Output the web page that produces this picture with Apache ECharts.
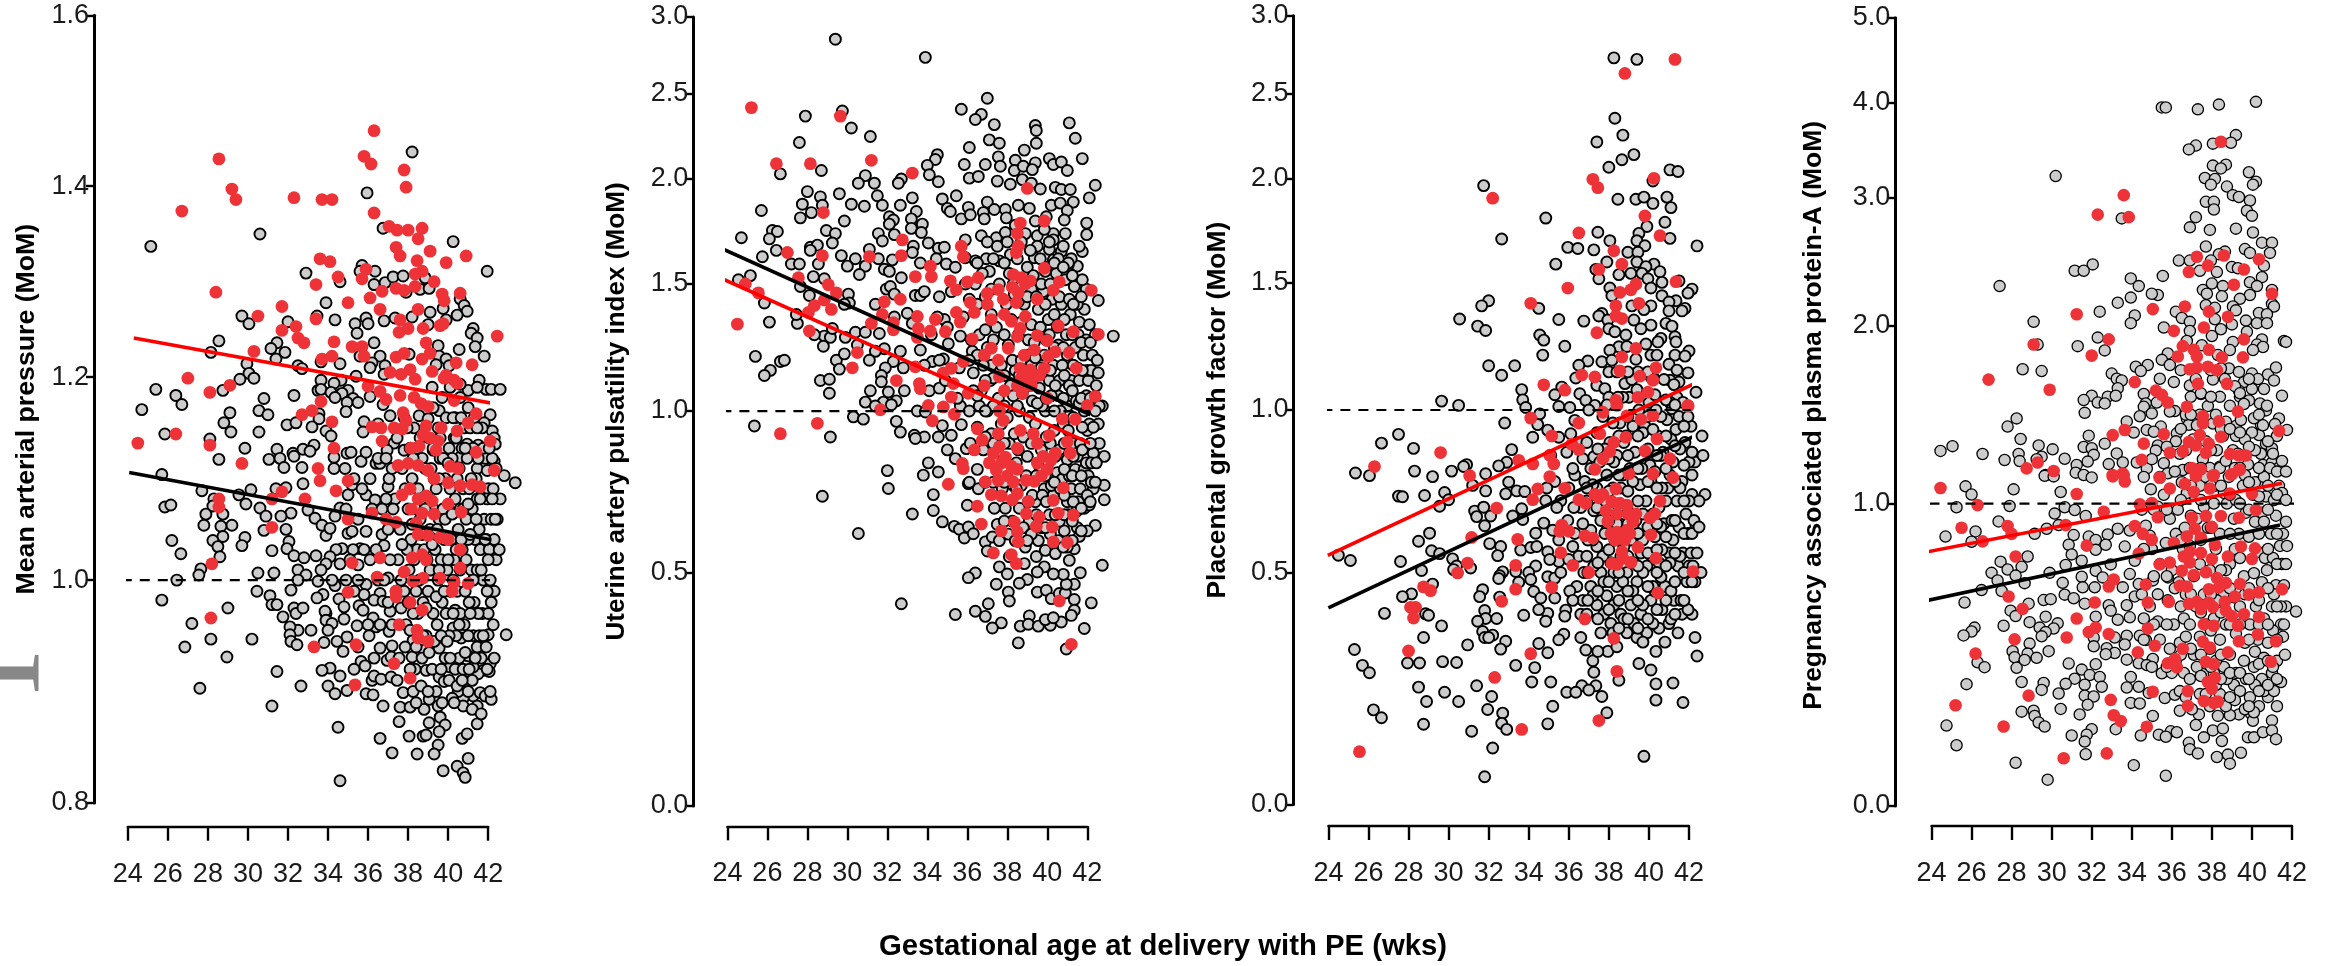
<!DOCTYPE html>
<html><head><meta charset="utf-8">
<script src="https://cdn.jsdelivr.net/npm/echarts@6/dist/echarts.min.js"></script>
<style>html,body{margin:0;background:#fff}#c{width:2331px;height:966px}</style></head>
<body><div id="c"></div>
<script>
const weekTicks=[24,26,28,30,32,34,36,38,40,42];
const xTitle="Gestational age at delivery with PE (wks)";
const titles=["Mean arterial pressure (MoM)","Uterine artery pulsatility index (MoM)","Placental growth factor (MoM)","Pregnancy associated plasma protein-A (MoM)"];
const p1Ticks=[0.8,1.0,1.2,1.4,1.6];
const p2Ticks=[0.0,0.5,1.0,1.5,2.0,2.5,3.0];
const p3Ticks=[0.0,0.5,1.0,1.5,2.0,2.5,3.0];
const p4Ticks=[0.0,1.0,2.0,3.0,4.0,5.0];
const p1Stops=[0,.283,.5406,.783,1];
const p2Stops=[0,.2953,.5006,.6616,.7947,.9024,1];
const p3Stops=[0,.2942,.5002,.6612,.7939,.9011,1];
const p4Stops=[0,.3836,.6093,.7713,.8922,1];
const p1BlackFit=[[24.07,1.106],[42.9,1.037]];
const p1RedFit=[[24.3,1.241],[43.1,1.171]];
const p1Ref=[[23.7,1],[42.9,1]];
const p2BlackFit=[[23.24,1.689],[42.8,.971]];
const p2RedFit=[[23.3,1.544],[42.84,.881]];
const p2Ref=[[23.7,1],[42.8,1]];
const p3BlackFit=[[24,.424],[42.8,.935]];
const p3RedFit=[[23.97,.553],[42.74,1.121]];
const p3Ref=[[23.7,1],[42.87,1]];
const p4BlackFit=[[23.66,.678],[41.4,.929]];
const p4RedFit=[[23.66,.839],[41.5,1.114]];
const p4Ref=[[23,1],[42.2,1]];

const p1Gray=[[38.2,1.44],[35.95,1.393],[36.75,1.356],[30.6,1.35],[25.15,1.337],[40.25,1.342],[41.95,1.311],[32.9,1.309],[35.7,1.317],[35.6,1.311],[36.35,1.311],[34.6,1.3],[36.3,1.297],[36.85,1.299],[37.25,1.305],[37.75,1.306],[38.85,1.304],[38.6,1.292],[39.05,1.293],[37.9,1.289],[33.9,1.278],[40.6,1.282],[40.8,1.275],[40.95,1.269],[39.75,1.272],[29.7,1.264],[30.05,1.256],[33.45,1.264],[34.35,1.26],[32,1.258],[35.35,1.256],[35.9,1.262],[36,1.256],[36.8,1.259],[37.35,1.262],[38.2,1.263],[39.1,1.268],[39.9,1.26],[40.45,1.265],[39,1.255],[35.45,1.246],[41.25,1.251],[41.15,1.246],[41.45,1.241],[36.3,1.236],[28.55,1.238],[28.15,1.226],[31.45,1.236],[31.15,1.23],[31.85,1.226],[31.4,1.219],[41.35,1.232],[40.55,1.229],[41.8,1.222],[39.5,1.233],[38.05,1.224],[36.6,1.222],[35.6,1.222],[36.2,1.215],[34.6,1.214],[33.65,1.216],[32.5,1.212],[32.7,1.209],[29.95,1.214],[30.05,1.204],[30.3,1.199],[29.6,1.198],[28.75,1.187],[35.4,1.201],[36.85,1.212],[36.1,1.21],[36.8,1.203],[39.55,1.222],[39.9,1.219],[39.4,1.213],[40.05,1.212],[41.55,1.197],[41.9,1.188],[42.15,1.188],[42.6,1.188],[41,1.187],[40.6,1.193],[33.65,1.197],[34.65,1.197],[34.3,1.194],[33.5,1.187],[33.65,1.188],[34.15,1.185],[35,1.187],[34.7,1.184],[34.35,1.18],[35.25,1.179],[32.3,1.182],[30.8,1.179],[34.95,1.175],[35.5,1.175],[36.1,1.181],[36.75,1.173],[34.9,1.166],[25.4,1.188],[26.4,1.182],[26.7,1.173],[24.7,1.168],[25.85,1.144],[28.1,1.139],[28.55,1.119],[29.85,1.13],[29.1,1.165],[28.8,1.155],[29.15,1.146],[30.55,1.167],[31,1.163],[30.55,1.146],[31.95,1.153],[32.4,1.155],[33.55,1.164],[33.55,1.159],[33.2,1.151],[33.9,1.147],[34.15,1.142],[35.8,1.156],[35.75,1.146],[36.5,1.154],[37.1,1.162],[38.55,1.162],[39,1.159],[39.55,1.167],[40.35,1.16],[42.1,1.163],[41.8,1.155],[42.2,1.147],[42.3,1.14],[42.35,1.134],[37.3,1.135],[40.3,1.14],[40.95,1.134],[41.5,1.133],[31.45,1.129],[32.25,1.125],[32.3,1.122],[32.75,1.129],[33.3,1.133],[33.1,1.127],[31.05,1.119],[31.6,1.12],[31.8,1.111],[32.7,1.111],[34.3,1.121],[34.3,1.11],[34.85,1.11],[34.95,1.125],[35.15,1.126],[35.65,1.117],[35.9,1.126],[36.4,1.115],[36.6,1.115],[36.95,1.128],[37.8,1.128],[39.25,1.128],[40.6,1.121],[41.45,1.11],[41.95,1.108],[42.3,1.117],[42.8,1.103],[43.35,1.096],[25.7,1.104],[27.7,1.088],[28.3,1.08],[28.25,1.073],[25.85,1.072],[26.15,1.074],[27.9,1.065],[28.75,1.065],[30.15,1.089],[29.55,1.084],[29.9,1.075],[30.6,1.071],[30.9,1.063],[32.15,1.066],[31.65,1.063],[30.8,1.049],[31.9,1.05],[27.8,1.054],[29.2,1.054],[28.65,1.053],[28.75,1.043],[28.25,1.039],[28.5,1.033],[28.6,1.023],[29.85,1.042],[29.7,1.034],[26.2,1.039],[26.65,1.026],[27.65,1.011],[27.55,1.005],[26.45,1],[30.5,1.007],[31.3,1.007],[31.2,1.029],[32.05,1.038],[31.95,1.031],[32.3,1.024],[32.8,1.022],[33,1.069],[33.35,1.061],[33.7,1.054],[33.9,1.044],[34.1,1.051],[34.6,1.071],[34.35,1.063],[35,1.046],[35.2,1.048],[35.9,1.048],[36.7,1.045],[35.9,1.084],[36.35,1.079],[37,1.092],[35,1.084],[35.2,1.094],[32.75,1.095],[31.9,1.091],[31.4,1.09],[36.8,1.034],[35.6,1.031],[35.25,1.03],[34.7,1.031],[34.4,1.03],[34.1,1.023],[33.4,1.024],[33.9,1.016],[33.65,1.01],[32.5,1.01],[32.9,1.005],[32.5,1],[34.6,1.016],[35.5,1.015],[37,1.002],[33.5,.999],[34.35,.995],[35.9,.996],[36.6,.988],[32.15,.991],[30.45,.99],[31.1,.986],[31.2,.978],[31.45,.978],[31.75,.967],[32.3,.975],[32.4,.97],[32.75,.975],[33.75,.987],[33.45,.984],[34.55,.983],[34.8,.976],[33.9,.97],[33.85,.972],[35.55,.977],[35.8,.987],[36.3,.982],[36.75,.981],[35.75,.973],[36.25,.966],[34.8,.965],[33.9,.964],[34.2,.961],[34,.955],[35.45,.959],[36.4,.958],[37.1,.972],[37.65,.975],[37.05,.954],[36.05,.95],[34.95,.949],[34.45,.945],[33.8,.944],[33.15,.955],[32.5,.955],[32.1,.958],[32.1,.951],[32.15,.945],[32.45,.942],[30.2,.947],[29,.975],[27.2,.961],[25.7,.982],[28.15,.947],[26.85,.94],[28.95,.931],[27.6,.903],[31.45,.918],[32.65,.905],[31.2,.887],[34.5,.868],[34.6,.82],[42.9,.951],[34.75,.936],[36.6,.939],[37.2,.941],[36.95,.928],[37.15,.931],[35.65,.927],[35.3,.92],[35.85,.923],[34.1,.921],[33.7,.919],[34.6,.914],[36.2,.91],[36.3,.914],[36.65,.911],[37.15,.913],[34,.905],[34.35,.898],[34.95,.901],[35.9,.898],[36.25,.897],[36.75,.887],[37.75,.899],[38.25,.9],[38.65,.905],[37.6,.886],[38.1,.886],[38.8,.884],[39.3,.894],[39.5,.887],[37.55,.873],[39.05,.872],[39.6,.877],[39.85,.87],[39.55,.864],[41.45,.871],[36.6,.858],[38.05,.86],[38.75,.86],[38.9,.861],[39.5,.852],[40.7,.858],[40.95,.862],[37.2,.845],[38.45,.844],[39.3,.844],[41,.84],[40.45,.833],[39.75,.829],[40.75,.827],[40.85,.823],[38.2,.931],[38.9,.919],[39.55,.913],[39.8,.909],[40.1,.922],[40.85,.909],[41.25,.896],[41.6,.899],[41.85,.896],[42.15,.893],[42.05,.918],[42.1,.925],[41.75,.919],[41.5,.916],[41.25,.922],[41.65,.939],[42,.951],[41,.932],[40.65,.948],[40.25,.957],[39.55,.939],[38.8,.937],[38.25,.946],[40.35,.973],[40.75,.894],[40.5,.9],[41.45,.887],[40.75,.887],[41.2,.884],[40.2,.894],[39.05,.893],
[37.4,.99],[37.5,1.02],[37.6,1.05],[37.35,1.08],[37.7,1.11],[37.45,1.14],[37.8,1.16],[37.9,.96],[38,.98],[38.05,1.01],[38.15,1.04],[38,1.07],[38.2,1.1],[38.1,1.13],[38.3,1.15],[38.35,.92],[38.5,.97],[38.55,1],[38.45,1.03],[38.6,1.06],[38.5,1.09],[38.7,1.12],[38.6,1.14],[38.9,.95],[39,.99],[38.95,1.02],[39.1,1.05],[39,1.08],[39.15,1.11],[39.05,1.14],[39.2,1.19],[39.4,.9],[39.45,.96],[39.5,1.0],[39.35,1.03],[39.55,1.06],[39.4,1.09],[39.6,1.12],[39.5,1.15],[39.7,1.18],[39.85,.93],[39.9,.97],[39.95,1.01],[39.8,1.04],[40,1.07],[39.85,1.1],[40.05,1.13],[39.9,1.16],[40.1,1.19],[40.3,.89],[40.35,.92],[40.4,.95],[40.45,.99],[40.3,1.02],[40.5,1.05],[40.35,1.08],[40.55,1.11],[40.4,1.14],[40.6,1.18],[40.75,.92],[40.8,.96],[40.85,.99],[40.7,1.03],[40.9,1.06],[40.75,1.09],[40.95,1.12],[40.8,1.15],[41,1.17],[41.2,.91],[41.25,.95],[41.3,.98],[41.15,1.01],[41.35,1.04],[41.2,1.07],[41.4,1.1],[41.25,1.13],[41.45,1.19],[41.65,.93],[41.7,.97],[41.75,1],[41.6,1.03],[41.8,1.06],[41.65,1.09],[41.85,1.12],[41.7,1.15],[42,.97],[42.1,1],[42.05,1.03],[42.15,1.06],[42,1.09],[42.2,1.12],[42.45,1.06],[42.4,1.02],[42.3,.99],[37,1.05],[37.1,1.02],[36.9,1.08],[37.05,1.1],[36.4,1.03],[36.5,1.0],[36.2,1.07],[36.1,1.1],[36.5,1.12],[35.5,1],[35.3,.99],[35.1,1.02],[35.7,1.09],[35.3,1.1],
[37.2,.96],[37.55,.93],[37.85,.94],[37.65,1],[37.95,1.03],[38.25,.97],[38.3,1.02],[38.4,1.07],[38.25,1.12],[38.7,.93],[38.75,.98],[38.8,1.03],[38.65,1.08],[38.85,1.11],[39.2,.92],[39.25,.97],[39.2,1.01],[39.25,1.07],[39.3,1.1],[39.25,1.17],[39.65,.92],[39.7,.98],[39.65,1.02],[39.75,1.07],[39.6,1.14],[40.05,.95],[40.1,.99],[40.15,1.04],[40.1,1.09],[40.2,1.12],[40.25,1.16],[40.55,.93],[40.6,.97],[40.6,1.01],[40.6,1.07],[40.7,1.13],[41,.95],[41.05,.98],[41,1.04],[41.05,1.09],[41.1,1.15],[41.45,.94],[41.5,.97],[41.45,1.01],[41.55,1.05],[41.45,1.08],[41.5,1.12],[41.9,.94],[41.95,.99],[41.9,1.04],[41.95,1.08],[42.25,.96],[42.3,1.04],[42.25,1.09],[42.6,1.08],[42.55,1.03],[36.7,1.07],[36.9,1.12],[36.8,1],[37.25,1.07],[37.2,1.11],[36.1,1.02],[35.8,1.03],[35.5,1.06],[34.9,1.07],[38.1,.92],[38.4,.89],[39,.9],[39.7,.89],[40.05,.91],[41,.9],[41.65,.88],[42.1,.9],[36.6,.96],[37,.98],[37.45,.91],[35.5,.94],[34.9,1.0],[34.2,1.0],[36,.96],[36.3,.93],
[37.7,1.035],[37.8,.99],[37.85,1.09],[37.95,1.15],[38.2,1.055],[38.1,.955],[38.45,1.13],[38.4,.99],[38.4,.94],[38.7,1.045],[38.85,1.07],[38.75,.95],[38.9,.975],[39.1,1.01],[39.05,.935],[39.25,1.13],[39.2,1.035],[39.3,.945],[39.4,.985],[39.45,1.05],[39.55,1.1],[39.55,1.01],[39.65,.95],[39.75,1.12],[39.8,.99],[39.85,1.06],[39.95,.945],[40,1.115],[40,1.02],[40.1,.93],[40.2,1.065],[40.25,1],[40.25,.97],[40.4,1.03],[40.45,1.1],[40.45,.905],[40.55,.96],[40.65,1.04],[40.65,1.16],[40.7,.91],[40.75,1.07],[40.85,1.13],[40.85,.935],[40.9,1.02],[41,1.075],[41.05,.92],[41.1,.97],[41.15,1.1],[41.1,1.045],[41.25,1],[41.3,1.16],[41.35,.93],[41.4,1.06],[41.45,1.15],[41.55,.95],[41.6,1.08],[41.65,1.01],[41.75,1.13],[41.75,.95],[41.85,1.04],[41.95,.92],[42,1.02],[42.05,1.13],[42.15,.98],[42.2,1.08],[42.3,.93],[42.35,1.06],[42.4,1.11]];
const p1Red=[[24.5,1.135],[26.4,1.144],[26.7,1.374],[27,1.199],[28.55,1.432],[29.2,1.397],[29.4,1.386],[28.4,1.289],[28.1,1.185],[28.1,1.133],[29.7,1.115],[29.1,1.192],[30.3,1.227],[30.5,1.264],[31.7,1.274],[31.7,1.249],[32.4,1.253],[32.5,1.241],[32.8,1.236],[32.3,1.388],[33.7,1.386],[34.2,1.386],[33.6,1.324],[34.1,1.321],[34.5,1.305],[33.4,1.297],[35,1.278],[33.4,1.261],[34.3,1.237],[35.2,1.232],[35.7,1.232],[35.8,1.222],[33.7,1.219],[34.2,1.222],[33.65,1.176],[33.2,1.167],[32.7,1.163],[34.2,1.156],[34.3,1.13],[33.5,1.11],[36.3,1.465],[35.8,1.435],[36.15,1.426],[37.8,1.419],[37.9,1.399],[36.3,1.372],[37.05,1.358],[37.45,1.354],[38,1.354],[38.7,1.356],[38.5,1.345],[37.4,1.336],[37.6,1.327],[39.1,1.332],[40.9,1.327],[38.45,1.322],[39.9,1.32],[35.9,1.313],[35.7,1.303],[38.7,1.311],[38.35,1.308],[39.3,1.3],[38.35,1.295],[37.4,1.293],[37.8,1.291],[36.7,1.29],[36.1,1.283],[39.7,1.287],[40.6,1.288],[39.8,1.28],[36.6,1.271],[38.5,1.271],[37.6,1.26],[38.75,1.251],[38,1.251],[37.55,1.247],[39.6,1.254],[39.75,1.256],[42.45,1.243],[38.9,1.236],[39.1,1.225],[38.7,1.219],[37.8,1.225],[37.4,1.221],[40.4,1.215],[41.2,1.213],[39.2,1.206],[38.1,1.208],[37.65,1.203],[37.1,1.205],[38.35,1.198],[40.3,1.197],[39.8,1.199],[39.9,1.202],[40.45,1.194],[36,1.191],[36.6,1.186],[36.9,1.178],[37.6,1.182],[38.3,1.18],[38.65,1.174],[39,1.171],[40.3,1.177],[37.75,1.165],[37.9,1.157],[36.2,1.151],[36.65,1.15],[37.3,1.15],[37.7,1.149],[38.9,1.152],[39.65,1.15],[40.45,1.147],[41,1.155],[41.4,1.164],[42.1,1.137],[36.7,1.137],[38.75,1.143],[39.1,1.14],[39.5,1.137],[38.55,1.132],[39.4,1.128],[38.15,1.13],[41.4,1.126],[40.1,1.112],[40.5,1.11],[42.3,1.108],[37.5,1.113],[38,1.115],[38.5,1.113],[39,1.108],[39.3,1.1],[40,1.096],[40.6,1.093],[41.2,1.094],[41.6,1.092],[38.1,1.09],[38.5,1.08],[38.9,1.083],[39.2,1.078],[37.7,1.084],[40,1.075],[40.65,1.067],[38.15,1.07],[38.7,1.066],[39.3,1.065],[36.9,1.06],[36.2,1.066],[37.4,1.057],[38.4,1.056],[38.5,1.045],[39,1.044],[39.6,1.042],[40,1.04],[35,1.06],[33.6,1.098],[34.4,1.088],[35,1.098],[31.7,1.087],[31.2,1.08],[32.85,1.08],[31.2,1.052],[28.55,1.08],[28.55,1.072],[40.6,1.03],[38.2,1.022],[38.7,1.025],[38.9,1.02],[35.2,1.017],[36.6,1.022],[37.8,1.008],[40.6,1.012],[36.45,1.003],[38.25,.999],[38.75,1.002],[39.6,1.002],[40.3,.998],[41,.997],[40.2,.99],[35,.989],[37.4,.99],[37.4,.985],[38.1,.98],[38.7,.973],[28.2,1.016],[28.15,.966],[37.55,.96],[38.45,.955],[38.5,.948],[39,.945],[33.3,.94],[35.4,.942],[37.3,.925],[38.1,.912],[35.35,.906]];

const p2Gray=[[29.4,2.856],[33.9,2.738],[37,2.475],[35.7,2.41],[36.7,2.38],[36.4,2.35],[37.35,2.32],[39.4,2.315],[39.45,2.285],[41.1,2.33],[41.4,2.24],[37.1,2.23],[37.6,2.21],[39.45,2.21],[27.9,2.37],[29.75,2.4],[30.2,2.3],[31.15,2.25],[27.6,2.215],[36.1,2.185],[38.85,2.17],[34.5,2.143],[34.4,2.115],[34,2.08],[35.85,2.085],[37.55,2.13],[37.65,2.075],[36.9,2.085],[38.4,2.11],[39.4,2.095],[40.1,2.12],[40.3,2.085],[40.7,2.1],[41,2.05],[41.75,2.12],[26.65,2.03],[28.7,2.05],[34.1,2.025],[34.55,1.987],[36.1,2.005],[36.55,2.015],[38.35,2.05],[38.8,2.075],[39.25,2.055],[37.5,1.99],[38.15,1.975],[38.75,1.997],[39.2,1.98],[39.65,1.952],[40.4,1.96],[40.7,1.95],[41.15,1.95],[42.4,1.97],[42.1,1.91],[30.9,2.02],[30.55,1.98],[31.35,1.98],[32.7,2],[32.55,1.98],[28,1.94],[29.6,1.93],[28.65,1.915],[31.5,1.92],[27.75,1.88],[30.2,1.88],[30.85,1.87],[31.75,1.875],[32.65,1.875],[28.75,1.875],[28.2,1.84],[27.65,1.815],[25.7,1.85],[29.85,1.8],[33.25,1.91],[33.45,1.845],[34.75,1.905],[35.45,1.92],[35,1.86],[35.15,1.845],[36.05,1.865],[37,1.89],[36.8,1.84],[37.35,1.855],[37.9,1.855],[38.55,1.875],[39.1,1.86],[40.2,1.875],[40.65,1.885],[41.3,1.89],[41,1.85],[32.1,1.82],[32.3,1.805],[33.2,1.81],[33.75,1.785],[35.7,1.81],[36.15,1.83],[36.85,1.81],[37.95,1.815],[39.95,1.82],[40.85,1.805],[41.97,1.79],[24.7,1.72],[26.25,1.755],[26.5,1.75],[26.1,1.715],[28.95,1.755],[29.4,1.74],[31.55,1.74],[32.1,1.785],[32.35,1.735],[31.75,1.705],[33.2,1.765],[33.7,1.745],[29.25,1.695],[34.05,1.695],[36.7,1.73],[35.9,1.71],[37.45,1.72],[37.9,1.745],[41.97,1.735],[40.9,1.74],[39.5,1.73],[40.3,1.74],[25.75,1.63],[26.45,1.66],[28.15,1.675],[28.5,1.685],[28.15,1.66],[29.7,1.635],[31.1,1.665],[33.3,1.68],[34.55,1.67],[34.85,1.675],[27.2,1.595],[27.6,1.595],[30.4,1.62],[30,1.585],[30.9,1.585],[30.6,1.545],[28.55,1.595],[31.85,1.57],[32.1,1.56],[32.25,1.615],[31.55,1.62],[33.25,1.65],[33.65,1.6],[32.7,1.53],[34.45,1.62],[34.95,1.595],[35.4,1.58],[35.9,1.625],[36.4,1.61],[36.95,1.62],[37.6,1.61],[38.15,1.64],[39.35,1.625],[40.1,1.665],[40.7,1.655],[41.75,1.655],[41.5,1.585],[41.05,1.59],[40.3,1.615],[24.55,1.52],[25.15,1.54],[28.85,1.525],[28.3,1.535],[27.65,1.49],[28.1,1.455],[25.85,1.425],[26.1,1.35],[27.5,1.345],[27.45,1.38],[30.05,1.46],[30.1,1.425],[29.85,1.42],[31.95,1.48],[32.15,1.49],[32.35,1.46],[33.4,1.455],[33.65,1.455],[33.85,1.47],[34.6,1.45],[33,1.385],[32.35,1.37],[31.4,1.42],[42.55,1.435],[43.3,1.295],[41.85,1.4],[41.95,1.48],[30.4,1.31],[30.9,1.31],[31.6,1.305],[33.25,1.345],[28.85,1.295],[29.15,1.29],[28.35,1.3],[28.8,1.255],[29.9,1.29],[29.25,1.325],[34.85,1.36],[35.65,1.295],[36.25,1.235],[35.05,1.265],[33.65,1.24],[32.65,1.235],[31.85,1.245],[31.4,1.235],[30.5,1.26],[25.4,1.215],[26.65,1.195],[26.85,1.2],[26.15,1.16],[25.85,1.14],[29.45,1.2],[29.85,1.225],[29.6,1.165],[31.1,1.2],[32.3,1.195],[31.9,1.17],[31.7,1.14],[32.8,1.17],[28.65,1.12],[29.1,1.125],[29.1,1.07],[31.15,1.08],[31.7,1.115],[32.05,1.075],[31.8,1.035],[32.45,1.04],[30.9,1.035],[31.4,1.02],[32.2,1.025],[32.85,1.08],[34.25,1.195],[34.8,1.205],[34.1,1.08],[34.6,1.09],[35.65,1.02],[36.6,1.02],[33.5,1],[33.9,.997],[25.35,.954],[30.3,.982],[30.8,.975],[29.15,.92],[32.45,.968],[32.65,.935],[33.35,.925],[33.85,.92],[33.4,.915],[34.55,.92],[35.2,.925],[34.75,.955],[35,.88],[35.7,.958],[35.4,.853],[35.95,.884],[34.05,.84],[33.8,.802],[34.55,.812],[32,.816],[32.05,.761],[28.75,.737],[34.3,.742],[34.3,.693],[33.25,.682],[30.55,.622],[34.75,.658],[35.35,.644],[35.6,.635],[35.85,.608],[36.05,.642],[36.3,.621],[36,.709],[36.05,.776],[36.55,.76],[36.4,.5],[36.05,.49],[36.9,.596],[37,.568],[37.25,.611],[37.6,.519],[38,.498],[37.45,.476],[38.05,.459],[37.05,.434],[38.1,.44],[36.4,.418],[36.9,.407],[32.7,.434],[35.4,.411],[37.7,.393],[37.25,.382],[38.65,.386],[38.55,.35],[39.1,.408],[39.05,.39],[39.5,.459],[39.95,.463],[40.2,.445],[40.6,.456],[40.9,.457],[41.35,.443],[41.35,.42],[41.2,.409],[42.2,.436],[41.85,.381],[40.7,.395],[40.15,.388],[39.55,.386],[39.9,.4],[40.3,.404],[40.95,.337],[42.75,.524],[42.85,.726],[42.85,.771],[42.4,.647],[42,.63],[41.6,.613],[41.35,.575],[41.1,.539],[41.65,.501],[41.35,.476],[40.95,.476],[40.8,.497],[40.3,.498],[39.85,.519],[39.5,.503],[39,.486],[38.6,.478],[38.85,.529],[39.45,.551],
[36.4,1.5],[36.5,1.42],[36.6,1.3],[36.3,1.15],[36.7,1.08],[36.5,.95],[36.8,.88],[36.9,.78],[37,1.7],[37.1,1.56],[37.2,1.38],[37,1.25],[37.15,1.12],[37,1],[37.2,.93],[37.35,.7],[37.5,.65],[37.5,1.68],[37.6,1.5],[37.45,1.33],[37.7,1.18],[37.55,1.05],[37.7,.96],[37.5,.87],[37.75,.76],[37.6,.6],[38,1.7],[38.1,1.55],[37.95,1.42],[38.05,1.26],[38.15,1.1],[38,.98],[38.1,.9],[37.9,.7],[38.05,.62],[38.1,.55],[38.4,1.78],[38.5,1.62],[38.35,1.46],[38.55,1.3],[38.4,1.16],[38.6,1],[38.45,.84],[38.6,.7],[38.4,.6],[38.9,1.74],[39,1.58],[38.85,1.42],[39.05,1.28],[38.9,1.14],[39.1,.98],[38.95,.8],[39.1,.66],[38.9,.58],[39.4,1.8],[39.5,1.68],[39.3,1.54],[39.55,1.4],[39.35,1.27],[39.6,1.09],[39.4,.96],[39.6,.83],[39.4,.72],[39.55,.6],[39.85,1.76],[40,1.58],[39.8,1.47],[40.05,1.36],[39.85,1.22],[40.1,1.12],[39.9,1],[40.05,.84],[39.85,.76],[40.1,.68],[39.9,.57],[40.3,1.71],[40.45,1.55],[40.25,1.44],[40.5,1.33],[40.3,1.18],[40.55,1.06],[40.35,.94],[40.5,.81],[40.3,.74],[40.55,.6],[40.8,1.68],[40.9,1.52],[40.7,1.42],[40.95,1.3],[40.75,1.18],[41,1.02],[40.8,.96],[41,.85],[40.75,.79],[41,.72],[40.85,.63],[41.2,1.62],[41.35,1.49],[41.15,1.38],[41.4,1.25],[41.2,1.12],[41.45,1.04],[41.25,.9],[41.4,.82],[41.2,.76],[41.45,.69],[41.25,.6],[41.6,1.68],[41.75,1.52],[41.6,1.35],[41.8,1.22],[41.6,1.12],[41.85,1],[41.65,.9],[41.85,.82],[41.65,.76],[41.85,.7],[42.1,1.34],[42.25,1.22],[42.05,1.12],[42.3,1.05],[42.1,.96],[42.3,.87],[42.05,.8],[42.3,.76],[42.1,.71],[42.5,1.2],[42.45,1.1],[42.75,1.02],[42.6,.9],[42.85,.86],[42.55,.96],
[38.3,1.5],[38.2,1.36],[38.25,1.2],[38.3,1.06],[38.35,.93],[38.3,.77],[38.25,.66],[38.7,1.7],[38.75,1.5],[38.7,1.35],[38.7,1.2],[38.75,1.07],[38.8,.92],[38.7,.77],[38.8,.64],[39.15,1.66],[39.2,1.48],[39.2,1.34],[39.2,1.18],[39.25,1.04],[39.2,.9],[39.25,.74],[39.2,.62],[39.65,1.62],[39.7,1.5],[39.65,1.33],[39.7,1.17],[39.75,1.02],[39.7,.88],[39.75,.74],[39.7,.64],[40.1,1.7],[40.15,1.5],[40.1,1.3],[40.15,1.16],[40.2,1.06],[40.15,.9],[40.2,.77],[40.15,.62],[40.55,1.62],[40.6,1.45],[40.55,1.26],[40.6,1.12],[40.65,1],[40.6,.88],[40.65,.76],[40.6,.66],[41.05,1.6],[41.1,1.44],[41,1.22],[41.1,1.1],[41.05,.94],[41.1,.8],[41.05,.68],[41,.58],[41.5,1.42],[41.55,1.3],[41.5,1.17],[41.6,1.03],[41.5,.86],[41.55,.72],[41.5,.64],[41.95,1.28],[42,1.16],[41.95,1.06],[42,.94],[41.95,.84],[42,.74],[42.2,.84],[42.3,.95],[42.2,1.16],[42.4,1.3],[37.2,1.48],[37.2,1.18],[37.3,1.02],[37.35,.85],[36.75,1.55],[36.8,1.18],[36.9,1.0],[36.2,1.28],[36.3,1.08],[36.15,.9],[35.9,1.5],[35.8,1.37],[35.6,1.17],[35.5,1.05],[35.2,1.47],[35,1.33],[34.9,1.12],[34.5,1.37],[34.6,1.2],[34.2,1.3],[33.85,1.18],
[38.55,1.43],[38.6,1.14],[38.5,1.02],[38.55,.88],[38.45,.76],[39,1.45],[39,1.22],[39.05,1.1],[39,.86],[39.05,.72],[39,.6],[39.45,1.45],[39.4,1.21],[39.5,1.03],[39.45,.8],[39.45,.68],[39.9,1.56],[39.9,1.42],[39.95,1.28],[39.95,1.05],[39.95,.92],[39.9,.8],[39.95,.72],[39.9,.64],[40.35,1.6],[40.35,1.38],[40.35,1.25],[40.4,1.1],[40.35,1],[40.4,.86],[40.35,.78],[40.4,.68],[40.4,.56],[40.8,1.58],[40.85,1.36],[40.8,1.25],[40.85,1.14],[40.8,1.05],[40.85,.9],[40.85,.82],[40.85,.74],[40.85,.68],[40.8,.58],[41.25,1.54],[41.3,1.42],[41.25,1.3],[41.3,1.18],[41.25,1.08],[41.3,.98],[41.3,.86],[41.25,.8],[41.3,.72],[41.25,.66],[41.7,1.45],[41.7,1.27],[41.75,1.16],[41.7,1.05],[41.75,.95],[41.75,.88],[41.7,.8],[41.7,.7],[41.7,.63],[42.15,1.27],[42.15,1.05],[42.15,.9],[42.2,.78],[42.15,.72],[42.55,1.15],[42.6,1.02],[42.4,1],[42.45,.84],[42.4,.78],[37.85,1.6],[37.85,1.3],[37.85,1.14],[37.85,1.02],[37.85,.9],[37.85,.78],[37.85,.66],[37.3,1.62],[37.3,1.28],[37.3,1.13],[37.3,.9],[37.3,.78],[36.9,1.45],[36.9,1.32],[36.9,1.12],[36.9,.92],[36.5,1.6],[36.5,1.22],[36.5,1.06],[36.5,.82],[36.1,1.44],[36.1,1.2],[36.1,1],[36.1,.78]];
const p2Red=[[25.2,2.42],[29.65,2.37],[26.45,2.09],[28.15,2.09],[31.2,2.11],[33.25,2.035],[39,1.955],[28.8,1.84],[38.65,1.79],[39.85,1.8],[38.5,1.74],[32.75,1.71],[27,1.65],[35.7,1.68],[38.55,1.68],[38.45,1.65],[28.75,1.635],[31.1,1.63],[32.7,1.635],[35.8,1.63],[34.15,1.585],[39.85,1.575],[34.2,1.535],[27.55,1.53],[33.4,1.535],[35.15,1.515],[36.55,1.53],[36,1.51],[38.3,1.545],[38.7,1.53],[39.15,1.515],[38.9,1.5],[40.6,1.51],[24.9,1.5],[29.05,1.497],[40.3,1.475],[35.45,1.477],[42.2,1.475],[25.55,1.465],[29.45,1.465],[37,1.463],[37.55,1.478],[38.25,1.487],[38.55,1.465],[32.65,1.44],[31.85,1.43],[39.5,1.44],[36.15,1.427],[37,1.42],[37.8,1.44],[38.45,1.427],[28.85,1.437],[28.35,1.415],[29.2,1.4],[36.35,1.388],[28.05,1.388],[35.45,1.388],[31.75,1.38],[33.5,1.372],[37.85,1.38],[38.9,1.372],[34.4,1.36],[37.2,1.36],[38.2,1.353],[35.65,1.35],[24.5,1.342],[31.2,1.345],[32.3,1.348],[40.55,1.335],[32.3,1.32],[33.55,1.325],[34.15,1.315],[34.9,1.312],[38.65,1.325],[41.3,1.312],[28.1,1.315],[42.55,1.302],[39.5,1.297],[38.5,1.293],[33.5,1.29],[36.25,1.284],[40,1.277],[40.4,1.233],[38.05,1.247],[37.2,1.247],[30.5,1.23],[41.1,1.23],[39.35,1.24],[38.85,1.22],[36.85,1.22],[37.55,1.2],[35.8,1.195],[40.05,1.215],[38.65,1.168],[39.15,1.162],[39.85,1.168],[35.2,1.168],[33.4,1.174],[30.25,1.17],[41.45,1.168],[34.8,1.15],[37.6,1.135],[39.35,1.135],[32.45,1.12],[33.6,1.108],[36.85,1.1],[35.3,1.108],[37.85,1.08],[33.65,1.088],[38.75,1.07],[36.05,1.07],[42.4,1.058],[35.2,1.055],[40,1.05],[42,1.022],[34.05,1.022],[34.8,1.016],[31.65,1.005],[35.35,.99],[37.6,1],[40.75,.976],[34.25,.97],[41.4,.974],[28.5,.962],[37.8,.971],[38.65,.94],[26.65,.93],[36.5,.945],[39.3,.93],[40.1,.925],[37.55,.93],[36.75,.91],[41,.905],[36.35,.88],[37.6,.89],[39.5,.9],[40.4,.87],[41.15,.87],[38.5,.885],[37.9,.858],[39.5,.84],[35.75,.838],[35.8,.822],[35.05,.774],[36.9,.781],[37.55,.786],[37.45,.817],[38.3,.781],[38.95,.786],[39.35,.783],[40.8,.763],[38.5,.745],[37.2,.742],[37.7,.738],[38.25,.726],[40.3,.724],[39.05,.721],[36.5,.706],[40.55,.685],[41.3,.679],[38.95,.683],[39.6,.673],[38.35,.657],[36.7,.651],[39.45,.644],[40.25,.642],[37.7,.63],[38.5,.627],[40.3,.596],[41,.594],[38.55,.596],[37.3,.562],[38.2,.557],[38.45,.529],[40.6,.44],[41.2,.347],
[38.7,1.13],[38.95,1.12],[39.2,1.1],[39.6,1.14],[38.5,1.1],[39.8,.86],[40,.82],[39.7,.8],[40.2,.85],[37.3,.87],[37.1,.84],[37.7,.84],[38.2,.83],[38,.8],[38.5,.82]];

const p3Gray=[[38.25,2.73],[39.4,2.72],[38.3,2.355],[38.7,2.255],[37.4,2.215],[39.25,2.14],[38.65,2.11],[38,2.065],[41.05,2.05],[41.45,2.04],[40.2,1.987],[31.75,1.965],[38.45,1.9],[39.35,1.9],[39.75,1.91],[40.2,1.88],[40.9,1.91],[41.1,1.86],[34.85,1.81],[40.8,1.79],[39.9,1.77],[37.45,1.742],[32.65,1.71],[39.5,1.737],[39.4,1.702],[41.05,1.713],[38.05,1.702],[39.8,1.678],[42.4,1.677],[35.95,1.67],[36.45,1.665],[37.25,1.658],[38.95,1.647],[39.45,1.647],[35.35,1.59],[37.9,1.6],[39.4,1.6],[40.25,1.59],[39.85,1.578],[37.35,1.565],[40.55,1.554],[39.1,1.546],[38.5,1.54],[39.65,1.546],[39.95,1.52],[37.5,1.52],[40.65,1.503],[41.5,1.51],[42.15,1.476],[41.95,1.46],[40.1,1.48],[38.05,1.48],[38.15,1.45],[40.65,1.45],[41.35,1.43],[41,1.425],[32,1.43],[31.65,1.41],[34.5,1.4],[39.15,1.41],[40.1,1.41],[41.8,1.4],[41.65,1.39],[41,1.39],[39.75,1.395],[37.65,1.38],[37.5,1.37],[30.55,1.358],[35.5,1.356],[36.75,1.35],[37.95,1.354],[39.25,1.354],[31.45,1.33],[31.85,1.313],[40.1,1.334],[40.85,1.341],[41.15,1.33],[39.6,1.32],[38,1.32],[38.3,1.308],[38.85,1.295],[34.55,1.295],[34.75,1.275],[41.3,1.288],[40.6,1.282],[40.45,1.268],[41.35,1.268],[35.8,1.251],[38.5,1.249],[38.05,1.235],[42,1.232],[34.7,1.216],[40.1,1.216],[40.4,1.216],[41.3,1.216],[41.8,1.212],[36.95,1.193],[36.5,1.176],[37.65,1.19],[38.15,1.196],[32,1.174],[33.3,1.174],[32.65,1.137],[41,1.18],[41.4,1.157],[41.95,1.146],[38,1.15],[39.45,1.15],[40.2,1.13],[36.35,1.126],[41.5,1.11],[41.05,1.117],[33.65,1.08],[35.65,1.09],[35.3,1.06],[36.55,1.064],[37.4,1.097],[37.8,1.084],[38,1.05],[38.8,1.104],[42.35,1.07],[33.7,1.04],[36.85,1.038],[29.65,1.035],[30.5,1.018],[33.85,1.01],[35.5,1.014],[36.05,1.01],[37.3,1.018],[41.4,1.05],[41.15,1.005],[34.55,.988],[32.8,.96],[34.95,.938],[34.45,.955],[34.2,.916],[27.5,.925],[26.65,.898],[28.25,.882],[35.5,.916],[36.1,.927],[36.3,.968],[37.25,.856],[33.15,.878],[32.9,.839],[32.5,.828],[30.9,.832],[30.75,.826],[30.15,.812],[28.3,.812],[25.35,.806],[26.05,.798],[29.2,.795],[31.85,.804],[33,.778],[31.2,.768],[31.85,.751],[29.8,.746],[30,.724],[28.8,.737],[27.5,.735],[27.7,.733],[29.55,.704],[32.85,.742],[33.4,.751],[33.8,.749],[34.85,.721],[35.6,.721],[31.3,.689],[31.75,.701],[31.4,.672],[32.1,.674],[31.8,.644],[33.2,.674],[33.65,.696],[33.7,.663],[34.75,.652],[35.2,.63],[29.05,.621],[28.5,.596],[27.6,.534],[24.5,.553],[25.1,.537],[29.15,.567],[29.55,.558],[32.05,.589],[32.6,.58],[32.45,.552],[33.6,.569],[34.1,.577],[34.4,.58],[34.35,.621],[34.95,.564],[30.2,.542],[30.4,.52],[30.25,.509],[31.1,.514],[28.65,.506],[32.7,.502],[32.55,.493],[34.35,.52],[34,.5],[33.35,.503],[33.5,.479],[35.5,.534],[34.95,.491],[35.3,.488],[34.1,.485],[29.2,.475],[32.5,.487],[31.7,.463],[31.55,.448],[34.25,.459],[28.15,.454],[27.7,.448],[32.55,.447],[34.6,.445],[35.3,.445],[26.8,.412],[28.85,.411],[29,.408],[31.8,.418],[33.75,.408],[34.95,.412],[34.5,.42],[35.85,.419],[32.4,.401],[31.85,.401],[31.45,.395],[34.85,.395],[35.8,.406],[29.65,.385],[31.7,.373],[31.8,.36],[32.2,.365],[32,.36],[28.75,.36],[30.95,.344],[32.85,.352],[34.5,.347],[35.75,.367],[35.5,.355],[36.6,.36],[25.3,.334],[32.6,.335],[34.95,.327],[36.85,.333],[27.95,.305],[28.55,.305],[29.7,.308],[30.4,.306],[25.7,.3],[26.05,.284],[33.35,.3],[34.3,.295],[37.2,.31],[39.5,.304],[40.1,.29],[37.25,.285],[34.15,.264],[35.1,.264],[28.5,.253],[29.8,.242],[31.4,.256],[36.65,.256],[37.35,.256],[37,.247],[35.9,.242],[36.35,.242],[38.5,.268],[40.35,.26],[41.2,.262],[32.15,.233],[37.65,.233],[28.9,.222],[30.5,.222],[40.35,.225],[41.7,.22],[35.2,.212],[31.95,.205],[26.25,.204],[26.65,.187],[32.7,.197],[37.9,.198],[28.75,.173],[32.65,.175],[34.95,.174],[32.9,.162],[31.15,.158],[32.2,.122],[39.75,.104],[31.8,.06],
[36.5,.9],[36.3,.8],[36.6,.7],[36.3,.62],[36.5,.55],[36.4,.47],[36.6,.41],[37,1],[36.9,.9],[37.1,.82],[36.9,.72],[37.1,.63],[36.9,.55],[37.1,.47],[36.9,.41],[37.4,.93],[37.55,.84],[37.4,.76],[37.6,.66],[37.4,.58],[37.6,.5],[37.4,.43],[37.6,.37],[37.9,1.02],[38.05,.9],[37.9,.8],[38.1,.7],[37.9,.63],[38.1,.53],[37.9,.45],[38.1,.39],[37.95,.33],[38.4,1.15],[38.55,.96],[38.4,.86],[38.6,.76],[38.4,.65],[38.6,.55],[38.4,.47],[38.6,.41],[38.4,.34],[38.9,1.25],[39,1.05],[38.85,.92],[39.05,.82],[38.9,.7],[39.1,.6],[38.9,.5],[39.1,.43],[38.9,.37],[39.35,1.2],[39.5,1],[39.3,.87],[39.55,.77],[39.35,.66],[39.6,.56],[39.4,.48],[39.6,.41],[39.4,.36],[39.85,1.26],[40,1.03],[39.8,.95],[40.05,.83],[39.85,.72],[40.1,.62],[39.9,.52],[40.1,.44],[39.9,.37],[40.3,1.06],[40.45,.92],[40.3,.81],[40.5,.7],[40.3,.61],[40.5,.53],[40.3,.46],[40.5,.38],[40.35,.33],[40.75,1.12],[40.9,.97],[40.7,.87],[40.95,.76],[40.75,.65],[41,.56],[40.8,.47],[41,.39],[40.8,.35],[41.25,1.1],[41.35,.94],[41.2,.84],[41.4,.72],[41.2,.6],[41.45,.52],[41.25,.44],[41.45,.37],[41.7,1.03],[41.8,.9],[41.65,.78],[41.85,.68],[41.7,.56],[41.9,.48],[41.65,.41],[42.1,.95],[42.3,.84],[42.15,.74],[42.35,.64],[42.1,.56],[42.3,.48],[42.15,.41],[42.4,.32],[42.65,.92],[42.8,.74],[42.5,.72],[42.7,.86],[42.3,.36],
[36.7,.85],[36.8,.78],[36.7,.65],[36.75,.5],[36.7,.44],[37.2,.77],[37.25,.69],[37.2,.6],[37.25,.52],[37.2,.45],[37.7,.98],[37.8,.88],[37.7,.72],[37.8,.62],[37.7,.55],[37.75,.48],[37.75,.41],[38.2,.96],[38.25,.84],[38.2,.76],[38.3,.6],[38.25,.5],[38.25,.43],[38.2,.37],[38.7,1.05],[38.75,.9],[38.7,.8],[38.75,.68],[38.75,.58],[38.7,.48],[38.75,.4],[39.15,1.12],[39.2,.95],[39.2,.78],[39.2,.64],[39.25,.53],[39.2,.46],[39.25,.39],[39.65,1.06],[39.7,.93],[39.65,.82],[39.7,.68],[39.7,.6],[39.7,.5],[39.7,.43],[39.7,.35],[40.1,1.13],[40.2,.94],[40.1,.78],[40.2,.68],[40.15,.55],[40.2,.47],[40.2,.39],[40.6,.98],[40.6,.86],[40.65,.76],[40.6,.64],[40.65,.57],[40.6,.49],[40.65,.42],[41.05,1.03],[41.1,.91],[41.05,.8],[41.15,.66],[41.05,.53],[41.1,.46],[41.1,.4],[41.5,.98],[41.55,.88],[41.55,.76],[41.5,.64],[41.55,.55],[41.6,.44],[41.95,.98],[42,.84],[42,.72],[41.95,.62],[42,.52],[41.95,.42],[42.25,.66],[42.2,.52],[42.4,.56],[35.9,.87],[36,.76],[35.95,.66],[36,.54],[36.05,.46],[35.3,.78],[35.4,.7],[35.5,.6],[35.6,.5],[35.1,.86],[34.9,.76],[35.05,.54],
[36.2,.82],[36.25,.7],[36.2,.58],[36.2,.44],[36.9,.76],[36.95,.6],[36.95,.5],[36.95,.44],[37.45,.88],[37.4,.7],[37.45,.53],[37.45,.46],[37.45,.4],[37.45,.33],[38,.85],[38,.75],[38,.66],[38,.57],[38,.48],[38,.42],[38.45,1.05],[38.5,.92],[38.5,.8],[38.5,.7],[38.5,.6],[38.5,.5],[38.5,.44],[38.5,.38],[38.95,1.15],[38.95,.98],[38.95,.86],[38.95,.75],[38.95,.65],[38.95,.55],[38.95,.46],[38.95,.4],[39.4,1.08],[39.45,.92],[39.45,.82],[39.45,.72],[39.45,.62],[39.45,.52],[39.45,.44],[39.45,.38],[39.95,1.15],[39.95,.98],[39.95,.88],[39.95,.78],[39.95,.64],[39.95,.56],[39.95,.47],[39.95,.4],[40.35,1],[40.4,.86],[40.4,.76],[40.4,.65],[40.4,.57],[40.4,.5],[40.4,.42],[40.85,1.04],[40.85,.92],[40.85,.82],[40.85,.72],[40.85,.61],[40.85,.52],[40.85,.44],[41.3,1.02],[41.3,.89],[41.3,.78],[41.3,.66],[41.3,.56],[41.3,.48],[41.3,.41],[41.75,.95],[41.75,.83],[41.75,.72],[41.75,.62],[41.75,.5],[41.75,.44],[42.15,.87],[42.15,.8],[42.15,.62],[42.15,.48],[42.5,.64],[42.6,.5]];
const p3Red=[[41.3,2.72],[38.8,2.63],[40.25,2],[37.2,1.995],[37.45,1.955],[32.2,1.905],[39.8,1.82],[36.5,1.739],[40.55,1.726],[38.25,1.654],[38.65,1.59],[37.5,1.565],[41.35,1.506],[35.95,1.48],[39.35,1.495],[39.1,1.473],[38.55,1.463],[34.1,1.42],[38.35,1.41],[39.5,1.42],[38.35,1.37],[38.65,1.36],[37.4,1.304],[39.35,1.242],[38.65,1.209],[40.35,1.166],[38.55,1.154],[36.65,1.138],[37.3,1.13],[39.55,1.133],[34.75,1.099],[35.8,1.078],[38.35,1.038],[39.45,1.05],[39.95,1.07],[40.2,1.117],[41.95,1.018],[25.55,.114],[33.65,.162],[37.5,.181],[32.3,.274],[38.4,.287],[28,.331],[34.1,.325],[38.25,.358],[32.65,.438],[36.8,.4],[33.35,.464],[35.15,.468],[28.75,.469],[29.1,.461],[28.1,.425],[28.35,.425],[28.25,.402],[40.45,.456],[42.2,.503],[33.35,.522],[30.45,.499],[30.95,.529],[36.2,.522],[37,.5],[40.35,.544],[35.6,.561],[39.45,.578],[38.4,.525],[39.1,.531],[38.65,.564],[38.7,.543],[38.15,.528],[33.45,.602],[31.15,.608],[40.1,.616],[35.65,.646],[35.55,.627],[36,.627],[36.8,.613],[37.2,.606],[38.4,.624],[38.9,.63],[37.95,.657],[39.2,.657],[40.05,.668],[40.3,.68],[39.35,.68],[32.4,.698],[40.55,.72],[34.2,.724],[34.45,.757],[35.8,.759],[36.5,.724],[36.85,.713],[37.3,.74],[37.7,.74],[38.15,.718],[38.55,.713],[38.9,.707],[38.35,.757],[41.2,.792],[40.2,.803],[39,.804],[35.05,.795],[31.05,.798],[26.3,.826],[37.3,.817],[41.05,.85],[39.8,.874],[38.05,.872],[37.7,.85],[36.5,.878],[35.05,.861],[35.25,.834],[33.5,.845],[34.2,.834],[29.6,.869],[40.4,.911],[35.15,.92],[38.85,.916],[38.25,.9],[37.55,.927],[36.15,.895],[36.5,.96],[34.1,.975],[37.7,.993],[38.4,1.018],[41.95,1.015],[40.2,.982],[39.6,.971],[38.9,.982],
[38.6,.61],[38.8,.6],[39.05,.62],[38.3,.6],[38.1,.62],[38.95,.68],[38.4,.68],[37.85,.69],[37.5,.73]];

const p4Gray=[[40.2,4.01],[38.35,3.98],[35.5,3.95],[35.7,3.95],[37.3,3.93],[39.2,3.66],[38.95,3.58],[38.05,3.57],[37.2,3.55],[36.85,3.51],[38.7,3.35],[38.05,3.34],[38.45,3.31],[30.2,3.23],[39.85,3.27],[40.2,3.17],[40.05,3.14],[37.65,3.21],[38.15,3.2],[37.95,3.14],[38.75,3.12],[39.05,3.03],[39.35,3.01],[37.7,2.97],[38.1,2.97],[39.9,2.98],[38.1,2.91],[39.75,2.9],[40,2.86],[33.5,2.84],[37.2,2.85],[36.9,2.77],[37.9,2.75],[39.2,2.76],[40.05,2.73],[40.5,2.65],[41,2.65],[37.7,2.62],[40.9,2.57],[38.65,2.58],[39.65,2.6],[39.9,2.57],[38.35,2.56],[36.35,2.51],[36.9,2.51],[37.95,2.51],[40.6,2.47],[32.05,2.48],[31.15,2.43],[31.6,2.43],[39,2.46],[39.3,2.45],[37.4,2.43],[38.25,2.42],[35.55,2.39],[33.95,2.37],[34.35,2.31],[40.5,2.38],[38,2.33],[38.55,2.31],[39.9,2.34],[40.25,2.31],[27.4,2.31],[37.55,2.28],[37.75,2.25],[41,2.28],[35.3,2.24],[35,2.25],[33.95,2.22],[38.5,2.23],[39.9,2.24],[39.4,2.21],[33.3,2.18],[37.7,2.16],[41,2.17],[41.1,2.15],[39.05,2.15],[38.15,2.14],[32.4,2.11],[36.2,2.11],[39.2,2.12],[34.15,2.08],[40.35,2.1],[40.75,2.09],[36.5,2.06],[38.15,2.05],[39.7,2.04],[40.25,2.02],[40.75,2.02],[29.1,2.03],[33.95,2.02],[36.9,2.03],[39,2.01],[35.6,1.99],[36.9,1.97],[38.45,1.98],[39.75,1.966],[38,1.942],[40.5,1.923],[32.3,1.933],[41.6,1.914],[41.7,1.909],[31.3,1.885],[29.3,1.894],[36.75,1.914],[39.05,1.909],[40.25,1.894],[40.55,1.88],[37.5,1.89],[32.65,1.861],[38.9,1.863],[40.05,1.863],[35.8,1.844],[38.3,1.835],[34.2,1.769],[34.8,1.779],[35.5,1.808],[35.9,1.779],[34.45,1.745],[28.55,1.755],[29.5,1.745],[36.45,1.75],[38.85,1.76],[40,1.731],[40.8,1.726],[41.2,1.765],[41.1,1.692],[39.6,1.683],[33,1.731],[33.25,1.702],[33.5,1.692],[35.4,1.702],[36.1,1.683],[38.05,1.697],[36.9,1.664],[40.6,1.644],[33.3,1.649],[40,1.644],[39.35,1.635],[34.6,1.616],[32.8,1.601],[33.2,1.606],[37.45,1.616],[41.5,1.606],[39.4,1.601],[32,1.606],[31.6,1.582],[32.3,1.568],[32.65,1.563],[35.25,1.568],[34.7,1.563],[40.4,1.563],[37.8,1.548],[40.7,1.524],[34.6,1.544],[36.15,1.52],[31.65,1.51],[35,1.507],[34.4,1.491],[35.9,1.517],[28.25,1.479],[36.75,1.479],[33.75,1.462],[41.35,1.479],[27.8,1.433],[36.85,1.443],[41.15,1.447],[41.75,1.414],[40.45,1.443],[39.2,1.436],[35.45,1.433],[34.1,1.399],[34.75,1.414],[35.1,1.404],[31.85,1.382],[40.35,1.385],[28.45,1.363],[36.25,1.395],[40.7,1.337],[32.65,1.337],[29.35,1.327],[35.3,1.327],[31.6,1.318],[32,1.311],[30.05,1.305],[25.05,1.323],[24.45,1.296],[26.55,1.279],[33.25,1.282],[35.2,1.298],[41,1.311],[28.35,1.279],[27.65,1.245],[28.4,1.239],[29.5,1.264],[29.25,1.25],[30.65,1.252],[32.1,1.274],[31.8,1.236],[31.25,1.217],[32.85,1.222],[33.55,1.231],[34.25,1.231],[35.6,1.227],[34.75,1.198],[36.55,1.189],[40.55,1.217],[41,1.231],[41.35,1.202],[29.7,1.161],[31.2,1.174],[31.6,1.161],[32,1.147],[35.8,1.17],[38.4,1.207],[25.7,1.097],[26,1.051],[25.25,.988],[28.1,1.08],[27.9,.992],[29.65,1.156],[30.1,1.153],[30.45,1.065],[30.65,.988],[30.15,.967],[31.15,.979],[31.7,.959],[27.35,.941],[26.2,.908],[24.7,.891],[26,.874],[29.75,.917],[30.35,.929],[31.1,.896],[29.15,.9],[31.85,.891],[32.2,.88],[32.8,.898],[33.3,.917],[30.85,.864],[32.7,.864],[32.2,.847],[33.9,.911],[33.65,.858],[34.7,.927],[34.9,.894],[28.8,.825],[31,.832],[31.5,.811],[27.45,.808],[27.8,.782],[28.5,.791],[30.7,.797],[32.95,.799],[34.15,.811],[27,.771],[28.2,.762],[29.9,.771],[32.2,.778],[33.9,.767],[32.55,.756],[27.3,.746],[28.65,.737],[30.55,.738],[31.5,.758],[34.35,.734],[35.05,.746],[26.5,.714],[27.5,.711],[31.55,.723],[32.15,.723],[33.55,.723],[35.8,.756],[30.65,.699],[29.6,.681],[29.95,.684],[25.65,.673],[31.1,.687],[28.85,.669],[34.15,.693],[33.75,.664],[32.85,.664],[31.65,.669],[27.95,.646],[28.2,.628],[42.2,.643],[32.2,.626],[32.95,.646],[33.3,.616],[33.9,.624],[35.3,.61],[28.9,.608],[29.7,.626],[30.3,.604],[26.15,.59],[27.6,.596],[26,.577],[25.6,.564],[29.4,.59],[30.1,.587],[29.7,.575],[34.4,.563],[29.5,.561],[32.1,.557],[33.75,.563],[34.7,.549],[33.15,.557],[28.9,.537],[32.1,.528],[33.65,.534],[32.75,.522],[28.05,.512],[29.85,.512],[28.8,.504],[28.15,.492],[29.25,.49],[33.15,.506],[32.7,.502],[28.65,.483],[26.3,.475],[33.75,.484],[26.65,.459],[34.35,.472],[35.05,.486],[28.25,.457],[30.85,.471],[32.2,.469],[31.5,.451],[34.75,.466],[31.9,.433],[32.4,.427],[35.5,.439],[31.15,.421],[33.95,.427],[29.6,.407],[25.75,.403],[28.5,.41],[32.5,.394],[30.7,.404],[31.65,.401],[33.75,.392],[34.35,.394],[29.5,.384],[30.35,.372],[31.65,.365],[32.1,.362],[34.85,.374],[35.65,.357],[36.15,.368],[33.95,.341],[34.4,.339],[31.8,.335],[30.45,.321],[29.1,.315],[28.5,.312],[31.4,.303],[29.15,.298],[35.05,.298],[36.4,.315],[37.35,.303],[29.35,.276],[29.65,.263],[24.75,.266],[37.2,.268],[38.3,.298],[39.35,.303],[39.95,.306],[41,.283],[40.05,.282],[32,.254],[31.75,.236],[33.2,.254],[34.45,.233],[31,.233],[35.35,.236],[35.95,.247],[36.25,.244],[35.7,.229],[37.6,.227],[38.05,.25],[38.55,.256],[39.8,.227],[40.1,.227],[40.55,.244],[41,.25],[41.2,.221],[25.25,.201],[31.65,.213],[36.85,.209],[38.5,.215],[31.7,.171],[36.9,.188],[37.3,.174],[38.25,.162],[38.8,.17],[39.45,.176],[38.9,.14],[28.2,.143],[34.1,.135],[35.7,.1],[29.8,.087],
[35.6,1.05],[35.9,.95],[35.7,.87],[36,.78],[35.8,.68],[36.1,.6],[35.9,.52],[36,.44],[36.4,1.28],[36.5,1.12],[36.3,.98],[36.55,.85],[36.35,.74],[36.6,.62],[36.4,.54],[36.6,.44],[36.4,.38],[36.95,1.6],[37.05,1.36],[36.9,1.2],[37.1,1.05],[36.9,.86],[37.1,.76],[36.9,.6],[37.1,.5],[36.9,.42],[37,.32],[37.4,1.5],[37.55,1.25],[37.4,1.1],[37.6,.99],[37.4,.8],[37.6,.7],[37.4,.56],[37.6,.44],[37.4,.37],[37.95,1.75],[38.05,1.45],[37.9,1.2],[38.1,1],[37.9,.78],[38.1,.62],[37.9,.52],[38.1,.44],[37.9,.33],[38.4,1.6],[38.55,1.38],[38.4,1.2],[38.6,1.06],[38.4,.9],[38.6,.7],[38.4,.55],[38.6,.46],[38.4,.37],[38.9,1.55],[39.05,1.3],[38.85,1.15],[39.1,.95],[38.9,.8],[39.1,.69],[38.9,.5],[39.1,.4],[38.9,.3],[39.35,1.74],[39.45,1.47],[39.3,1.28],[39.55,1.1],[39.35,.9],[39.6,.76],[39.4,.66],[39.6,.48],[39.4,.38],[39.85,1.58],[40,1.4],[39.8,1.22],[40.05,1.05],[39.85,.89],[40.1,.77],[39.9,.6],[40.1,.46],[39.9,.36],[40.3,1.7],[40.45,1.28],[40.3,1.12],[40.5,.97],[40.3,.84],[40.5,.74],[40.3,.55],[40.5,.42],[40.35,.33],[40.75,1.55],[40.9,1.2],[40.7,1.04],[40.95,.9],[40.75,.78],[41,.66],[40.8,.54],[41,.44],[40.8,.36],[41.25,1.38],[41.35,1.1],[41.2,.96],[41.4,.86],[41.2,.73],[41.45,.6],[41.25,.48],[41.45,.41],[41.25,.33],[41.7,.94],[41.75,.86],[41.6,.73],[41.7,.66],[41.55,.56],
[36.2,1.35],[36.15,1.18],[36.2,.9],[36.15,.72],[36.2,.48],[36.7,1.5],[36.7,1.3],[36.75,1.06],[36.65,.92],[36.7,.7],[36.7,.56],[36.7,.36],[37.2,1.7],[37.25,1.44],[37.2,1.18],[37.25,.95],[37.2,.66],[37.25,.46],[37.7,1.35],[37.7,1.15],[37.8,.92],[37.7,.6],[37.75,.47],[37.7,.37],[38.2,1.5],[38.25,1.3],[38.15,1.1],[38.2,.85],[38.25,.68],[38.2,.48],[38.2,.4],[38.65,1.7],[38.7,1.46],[38.7,1.24],[38.75,1],[38.7,.78],[38.7,.6],[38.75,.42],[38.7,.33],[39.15,1.66],[39.2,1.38],[39.15,1.2],[39.2,1.02],[39.15,.85],[39.2,.57],[39.2,.44],[39.15,.35],[39.6,1.56],[39.65,1.36],[39.65,1.16],[39.7,.97],[39.65,.7],[39.65,.54],[39.7,.42],[39.65,.32],[40.1,1.48],[40.15,1.3],[40.15,1.12],[40.15,.94],[40.2,.66],[40.15,.51],[40.15,.4],[40.1,.31],[40.55,1.44],[40.6,1.15],[40.6,.94],[40.65,.82],[40.6,.62],[40.6,.49],[40.6,.38],[41.05,1.28],[41.1,1.02],[41.05,.82],[41.1,.7],[41.05,.58],[41.05,.46],[41.1,.38],[41.5,1.24],[41.5,1.06],[41.55,.9],[41.5,.8],[41.45,.66],[35.4,1.15],[35.3,.99],[35.4,.8],[35.3,.7],[35.4,.55],[34.95,1.08],[35,.85],[34.9,.66],[34.5,.98],[34.5,.7],[34.6,.62],
[36.45,1.42],[36.45,1.02],[36.45,.88],[36.45,.66],[36.45,.5],[36.95,1.5],[36.95,1.1],[36.95,.96],[36.95,.7],[36.95,.52],[37.45,1.62],[37.45,1.2],[37.45,1.02],[37.45,.88],[37.45,.64],[37.45,.5],[37.45,.43],[37.95,1.6],[37.95,1.3],[37.95,1.1],[37.95,.92],[37.95,.7],[37.95,.58],[37.95,.46],[38.45,1.76],[38.45,1.42],[38.45,1.1],[38.45,.78],[38.45,.64],[38.45,.5],[38.45,.42],[38.9,1.42],[38.9,1.05],[38.9,.9],[38.9,.72],[38.9,.6],[38.9,.44],[38.9,.36],[39.4,1.62],[39.4,1.4],[39.4,1.2],[39.4,1],[39.4,.82],[39.4,.6],[39.4,.44],[39.85,1.7],[39.85,1.32],[39.85,1.12],[39.85,.98],[39.85,.72],[39.85,.55],[39.85,.42],[39.85,.33],[40.35,1.5],[40.35,1.2],[40.35,1.04],[40.35,.9],[40.35,.68],[40.35,.6],[40.35,.47],[40.35,.38],[40.8,1.35],[40.8,1.1],[40.8,.98],[40.8,.85],[40.8,.72],[40.8,.6],[40.8,.48],[40.8,.4],[41.25,1.18],[41.25,1.05],[41.25,.9],[41.25,.8],[41.25,.66],[41.25,.55],[41.25,.42],[41.7,1.18],[41.7,1.02],[41.7,.8],[41.6,.6],[41.65,.5],[35.75,1.32],[35.75,.98],[35.75,.76],[35.75,.6],[35.75,.46],[35,1.25],[35.1,.98],[35.1,.76],[35.1,.6],[35,.46],[34.6,1.15],[34.6,.85],[34.6,.55]];
const p4Red=[[38.45,3.59],[33.6,3.03],[32.3,2.87],[33.85,2.85],[37.25,2.54],[38.6,2.55],[40.35,2.52],[37.8,2.47],[36.85,2.42],[39.6,2.44],[39.1,2.32],[41,2.25],[36.65,2.15],[35.05,2.13],[31.25,2.09],[37.85,2.11],[38.8,2.07],[37.6,1.99],[36.1,1.971],[32.85,1.923],[39.6,1.923],[29.1,1.894],[36.55,1.885],[37.1,1.865],[37.85,1.865],[32,1.832],[36.3,1.827],[37.25,1.827],[38.5,1.822],[39.55,1.822],[36.9,1.755],[37.25,1.765],[37.8,1.769],[38.25,1.75],[34.15,1.683],[26.85,1.697],[37.3,1.673],[38.75,1.673],[29.9,1.64],[35.2,1.635],[35.5,1.611],[35.8,1.568],[36.75,1.544],[39.3,1.517],[37.55,1.491],[37.55,1.452],[38.35,1.462],[33.65,1.414],[33.05,1.385],[35.6,1.39],[37.4,1.385],[38.45,1.375],[41.35,1.409],[34.6,1.337],[36.85,1.346],[37.2,1.327],[37.85,1.337],[35.9,1.286],[36.55,1.292],[37.7,1.286],[38.9,1.279],[39.35,1.27],[39.7,1.27],[34.5,1.246],[29.3,1.231],[28.75,1.198],[30.1,1.183],[37.45,1.193],[39.35,1.188],[33.05,1.161],[33.55,1.17],[35.4,1.147],[37.2,1.154],[38.1,1.161],[38.95,1.164],[24.45,1.088],[26.3,.995],[25.5,.92],[26.55,.875],[27.8,.926],[28,.9],[28.2,.825],[30.7,.929],[31.25,1.054],[32.6,.973],[31.75,.861],[33.05,1.153],[33.6,1.16],[33.65,1.124],[34.15,.926],[34.55,.9],[35,.88],[34.4,.998],[35,1.003],[35.3,.955],[35.4,1.145],[35.9,1.085],[37,1.2],[36.65,1.11],[37.1,1.065],[38.05,1.156],[37.9,1.085],[39,1.165],[39.4,1.19],[38.9,1.056],[40,1.056],[40.2,.979],[39.35,.953],[37,.953],[37.7,.959],[38.45,.959],[38,.923],[37.15,.917],[36.75,.891],[37.45,.888],[38.15,.864],[36.1,.87],[34.35,.835],[36.6,.825],[36.9,.841],[37.45,.837],[38,.817],[38.8,.825],[39.45,.858],[40.15,.852],[40,.817],[35.4,.799],[35.9,.805],[36.9,.805],[36.5,.778],[37.1,.764],[37.7,.773],[38.25,.754],[38.7,.738],[39.4,.734],[34.7,.732],[33.1,.749],[32.85,.726],[36.4,.728],[36.75,.726],[37.85,.717],[38.35,.723],[41.5,.717],[40.35,.707],[39.85,.699],[39.15,.693],[27.85,.693],[32.15,.673],[34.8,.673],[35.85,.675],[36.85,.669],[37.25,.675],[37.85,.673],[38.65,.675],[37.45,.652],[38.05,.658],[38.7,.646],[28.55,.652],[39.6,.634],[39,.628],[40.35,.626],[31.25,.62],[37.6,.601],[38.1,.596],[39.3,.596],[34.8,.587],[32.2,.59],[31.85,.575],[32.85,.569],[40.3,.567],[28.15,.551],[30.75,.557],[41.2,.545],[39.35,.545],[37.55,.543],[37.9,.524],[35.15,.53],[36.55,.52],[34.3,.508],[38.8,.508],[36.15,.486],[35.8,.472],[36.25,.459],[26.2,.504],[37.7,.477],[38.1,.469],[40.95,.477],[38.15,.424],[37.8,.41],[38,.388],[35.05,.378],[36.8,.38],[28.85,.365],[32.95,.351],[37.6,.347],[38.1,.341],[38.3,.345],[36.8,.331],[25.2,.333],[33.1,.3],[33.45,.281],[34.75,.262],[27.6,.263],[32.75,.174],[30.6,.158]];

const panels=[
 {gray:p1Gray,red:p1Red,blackFit:p1BlackFit,redFit:p1RedFit,ref:p1Ref,ticks:p1Ticks,stops:p1Stops,box:[127.8,15.3,360.4,787.7],yOff:33.8,xOff:23.7,size:[11,1.9,12.8],title:{size:26.7,gap:53.5,shift:0}},
 {gray:p2Gray,red:p2Red,blackFit:p2BlackFit,redFit:p2RedFit,ref:p2Ref,ticks:p2Ticks,stops:p2Stops,box:[727.4,17,359.9,789],yOff:34.1,xOff:20.3,size:[11,1.9,12.8],title:{size:26.1,gap:64,shift:0}},
 {gray:p3Gray,red:p3Red,blackFit:p3BlackFit,redFit:p3RedFit,ref:p3Ref,ticks:p3Ticks,stops:p3Stops,box:[1328.4,15.7,360.6,788.9],yOff:34.8,xOff:21.4,size:[11,1.9,12.8],title:{size:26.4,gap:62.8,shift:0}},
 {gray:p4Gray,red:p4Red,blackFit:p4BlackFit,redFit:p4RedFit,ref:p4Ref,ticks:p4Ticks,stops:p4Stops,box:[1931.5,17.7,360.5,788.3],yOff:36.3,xOff:20,size:[11.2,1.3,12.6],title:{size:26.5,gap:68.5,shift:7}}
];
const FONT="Liberation Sans";
const INK="#1a1a1a";
function toFrac(v,ticks,stops){
  let i=0; while(i<ticks.length-2&&v>ticks[i+1]) i++;
  return stops[i]+(v-ticks[i])/(ticks[i+1]-ticks[i])*(stops[i+1]-stops[i]);
}
const grid=[],xAxis=[],yAxis=[],series=[];
panels.forEach((p,k)=>{
  grid.push({left:p.box[0],top:p.box[1],width:p.box[2],height:p.box[3],containLabel:false});
  xAxis.push({gridIndex:k,type:'value',min:24,max:42,interval:2,offset:p.xOff,splitLine:{show:false},
    axisLine:{show:true,onZero:false,lineStyle:{color:'#000',width:2.4}},
    axisTick:{show:true,length:14,lineStyle:{color:'#000',width:2.4}},
    axisLabel:{show:true,margin:34,fontFamily:FONT,fontSize:27,color:INK,customValues:weekTicks,showMinLabel:true,showMaxLabel:true}});
  yAxis.push({gridIndex:k,type:'value',min:0,max:1,offset:p.yOff,splitLine:{show:false},
    name:titles[k],nameLocation:'middle',nameRotate:90,nameGap:p.title.gap,
    nameTextStyle:{fontFamily:FONT,fontWeight:'bold',fontSize:p.title.size,color:'#000',padding:[0,p.title.shift,0,0]},
    axisLine:{show:true,onZero:false,lineStyle:{color:'#000',width:3}},
    axisTick:{show:true,length:8,customValues:p.stops,lineStyle:{color:'#000',width:2.4}},
    axisLabel:{show:true,margin:5,fontFamily:FONT,fontSize:27,color:INK,customValues:p.stops,
      formatter:v=>{let b=0;p.stops.forEach((s,i)=>{if(Math.abs(s-v)<Math.abs(p.stops[b]-v))b=i});return p.ticks[b].toFixed(1)}}});
  const map=a=>a.map(d=>[d[0],toFrac(d[1],p.ticks,p.stops)]);
  const base={xAxisIndex:k,yAxisIndex:k,silent:true,animation:false,clip:false};
  const line=(name,a,color,w,type)=>({...base,name,type:'line',data:map(a),showSymbol:false,symbol:'none',lineStyle:{color,width:w,type:type||'solid',cap:'butt'}});
  series.push({...base,name:'Unaffected '+k,type:'scatter',data:map(p.gray),symbol:'circle',symbolSize:p.size[0],itemStyle:{color:'#cccccc',borderColor:'#000',borderWidth:p.size[1],opacity:1}});
  series.push(line('Reference '+k,p.ref,'#000',2.2,[10,8]));
  series.push({...base,name:'PE '+k,type:'scatter',data:map(p.red),symbol:'circle',symbolSize:p.size[2],itemStyle:{color:'#ee3338',opacity:1}});
  series.push(line('Fit unaffected '+k,p.blackFit,'#000',3.6));
  series.push(line('Fit PE '+k,p.redFit,'#ff0000',3.6));
});
const chart=echarts.init(document.getElementById('c'),null,{renderer:'canvas'});
chart.setOption({animation:false,backgroundColor:'#fff',grid,xAxis,yAxis,series,
  title:{text:xTitle,left:1158,top:927,textAlign:'center',textStyle:{fontFamily:FONT,fontWeight:'bold',fontSize:29.3,color:'#000'}},
  graphic:[{type:'text',x:53,y:673,rotation:-Math.PI/2,silent:true,style:{text:'I',font:'138px "Liberation Serif"',fill:'#888888',textAlign:'center',textVerticalAlign:'top'}}]
});
</script></body></html>
